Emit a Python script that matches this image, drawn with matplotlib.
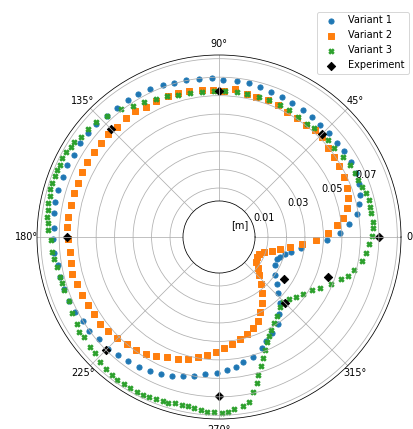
import numpy as np
import matplotlib
matplotlib.use("Agg")
import matplotlib.pyplot as plt

# Angles in degrees, radial displacement in metres
v1_theta = [358.4, 2.0, 5.7, 9.5, 13.2, 16.7, 20.7, 25.2, 29.8, 34.6, 38.7, 43.5, 48.1, 52.3,
            56.6, 61.4, 65.7, 70.3, 74.7, 79.0, 83.5, 88.4, 92.7, 97.2, 101.7, 106.2, 110.1,
            115.0, 119.4, 123.6, 128.4, 132.9, 137.4, 141.4, 146.0, 150.5, 154.7, 158.9, 163.6,
            168.0, 171.8, 176.7, 180.7, 185.6, 189.8, 194.2, 198.6, 203.1, 207.4, 211.6, 216.1,
            220.4, 225.3, 229.5, 233.8, 238.3, 242.7, 246.9, 251.3, 255.6, 259.8, 264.2, 269.0,
            273.3, 277.3, 281.0, 286.0, 291.0, 294.5, 298.7, 303.9, 307.9, 312.9, 316.8, 321.1,
            325.8, 333.4, 338.9, 342.1, 345.6, 348.5, 352.2]
v1_r = [0.0421, 0.0490, 0.0541, 0.0590, 0.0614, 0.0634, 0.0647, 0.0654, 0.0657, 0.0659, 0.0650,
        0.0655, 0.0653, 0.0657, 0.0659, 0.0660, 0.0667, 0.0669, 0.0674, 0.0682, 0.0685, 0.0684,
        0.0694, 0.0695, 0.0704, 0.0705, 0.0710, 0.0716, 0.0724, 0.0728, 0.0727, 0.0728, 0.0736,
        0.0739, 0.0741, 0.0737, 0.0746, 0.0740, 0.0741, 0.0742, 0.0740, 0.0727, 0.0734, 0.0735,
        0.0720, 0.0722, 0.0719, 0.0715, 0.0712, 0.0702, 0.0703, 0.0685, 0.0686, 0.0674, 0.0665,
        0.0661, 0.0649, 0.0640, 0.0627, 0.0609, 0.0598, 0.0579, 0.0569, 0.0555, 0.0542, 0.0522,
        0.0508, 0.0479, 0.0453, 0.0429, 0.0404, 0.0365, 0.0320, 0.0275, 0.0240, 0.0201, 0.0174,
        0.0170, 0.0182, 0.0204, 0.0232, 0.0283]

v2_theta = [358.2, 1.9, 5.8, 8.9, 12.6, 16.6, 21.1, 25.8, 30.4, 34.9, 39.1, 44.2, 48.1, 52.2,
            57.0, 61.4, 65.8, 70.3, 75.2, 79.0, 83.8, 88.0, 92.5, 96.7, 101.5, 105.8, 110.0,
            114.8, 119.3, 123.7, 128.1, 132.8, 137.1, 141.6, 145.8, 150.4, 154.7, 158.9, 163.3,
            167.9, 172.3, 176.4, 180.8, 185.6, 189.8, 194.1, 198.4, 202.9, 207.4, 211.7, 216.3,
            220.3, 224.9, 229.3, 233.6, 237.9, 242.1, 246.4, 251.2, 255.6, 260.1, 264.4, 268.7,
            272.8, 277.0, 281.4, 286.0, 290.3, 294.8, 298.6, 302.6, 307.1, 311.5, 316.6, 321.3,
            326.2, 331.9, 337.1, 341.5, 345.4, 348.6, 351.7, 355.0]
v2_r = [0.0359, 0.0426, 0.0479, 0.0514, 0.0544, 0.0566, 0.0577, 0.0584, 0.0591, 0.0593, 0.0596,
        0.0610, 0.0612, 0.0602, 0.0606, 0.0607, 0.0617, 0.0622, 0.0619, 0.0623, 0.0638, 0.0628,
        0.0630, 0.0634, 0.0641, 0.0643, 0.0648, 0.0647, 0.0643, 0.0654, 0.0650, 0.0648, 0.0652,
        0.0653, 0.0656, 0.0658, 0.0656, 0.0652, 0.0655, 0.0657, 0.0657, 0.0657, 0.0650, 0.0648,
        0.0649, 0.0656, 0.0646, 0.0641, 0.0635, 0.0630, 0.0633, 0.0620, 0.0611, 0.0602, 0.0594,
        0.0581, 0.0563, 0.0543, 0.0532, 0.0515, 0.0494, 0.0475, 0.0457, 0.0437, 0.0419, 0.0399,
        0.0379, 0.0362, 0.0335, 0.0298, 0.0262, 0.0218, 0.0178, 0.0134, 0.0103, 0.0078, 0.0065,
        0.0067, 0.0090, 0.0130, 0.0172, 0.0223, 0.0287]

v3_theta = [0.4, 3.2, 5.7, 8.8, 11.3, 13.9, 16.6, 19.4, 22.2, 25.3, 28.8, 33.0, 37.6, 41.6,
            45.2, 48.9, 52.3, 56.4, 61.0, 65.3, 69.8, 73.9, 78.8, 83.1, 87.7, 92.1, 96.8, 101.4,
            105.9, 110.2, 114.5, 119.0, 123.4, 127.4, 132.7, 136.8, 140.5, 144.0, 146.6, 148.7,
            151.0, 153.2, 155.7, 157.6, 159.7, 162.0, 164.2, 166.3, 168.7, 171.0, 173.3, 175.4,
            177.5, 181.0, 185.0, 187.6, 190.4, 194.0, 196.3, 198.9, 203.2, 207.4, 211.4, 214.1,
            216.7, 220.4, 223.2, 226.3, 229.4, 232.1, 234.7, 237.2, 239.5, 242.1, 244.4, 246.5,
            248.7, 251.0, 253.0, 255.1, 257.5, 259.5, 261.7, 264.1, 266.2, 268.5, 270.9, 273.0,
            275.1, 278.0, 280.3, 282.5, 284.4, 285.9, 287.8, 289.8, 292.0, 294.3, 296.5, 299.2,
            302.6, 306.5, 311.0, 314.8, 318.6, 322.2, 325.9, 330.0, 333.3, 337.4, 340.8, 343.3,
            346.1, 350.3, 353.7, 357.2]
v3_r = [0.0665, 0.0669, 0.0672, 0.0670, 0.0671, 0.0670, 0.0664, 0.0653, 0.0650, 0.0648, 0.0643,
        0.0632, 0.0622, 0.0625, 0.0623, 0.0617, 0.0610, 0.0612, 0.0620, 0.0620, 0.0624, 0.0623,
        0.0623, 0.0626, 0.0626, 0.0628, 0.0627, 0.0631, 0.0636, 0.0650, 0.0658, 0.0671, 0.0682,
        0.0707, 0.0725, 0.0746, 0.0751, 0.0757, 0.0772, 0.0775, 0.0779, 0.0784, 0.0781, 0.0785,
        0.0784, 0.0786, 0.0784, 0.0779, 0.0779, 0.0772, 0.0770, 0.0766, 0.0763, 0.0747, 0.0743,
        0.0738, 0.0727, 0.0721, 0.0719, 0.0721, 0.0721, 0.0732, 0.0737, 0.0748, 0.0745, 0.0750,
        0.0754, 0.0767, 0.0776, 0.0780, 0.0786, 0.0783, 0.0784, 0.0785, 0.0782, 0.0780, 0.0775,
        0.0771, 0.0772, 0.0762, 0.0769, 0.0763, 0.0768, 0.0775, 0.0783, 0.0785, 0.0788, 0.0786,
        0.0769, 0.0761, 0.0740, 0.0692, 0.0652, 0.0611, 0.0570, 0.0532, 0.0494, 0.0461, 0.0436,
        0.0411, 0.0387, 0.0366, 0.0340, 0.0330, 0.0342, 0.0362, 0.0385, 0.0414, 0.0448, 0.0493,
        0.0534, 0.0565, 0.0589, 0.0618, 0.0638, 0.0649]

exp_theta = [0, 45, 90, 135, 180, 225, 270, 315, 327, 340]
exp_r = [0.0702, 0.0624, 0.0626, 0.0662, 0.0658, 0.0699, 0.0698, 0.0337, 0.0257, 0.0462]

r_ticks = [0.01, 0.02, 0.03, 0.04, 0.05, 0.06, 0.07, 0.08]
r_labelled = [0.01, 0.03, 0.05, 0.07]

DPI = 70
fig = plt.figure(figsize=(413 / DPI, 429 / DPI), dpi=DPI)
ax = fig.add_axes([0.0896, 0.0233, 0.8814, 0.8485], projection="polar")

ms = 28
ax.scatter(np.radians(v1_theta), v1_r, s=ms, marker="o", label="Variant 1")
ax.scatter(np.radians(v2_theta), v2_r, s=ms, marker="s", label="Variant 2")
ax.scatter(np.radians(v3_theta), v3_r, s=ms, marker="X", label="Variant 3")
ax.scatter(np.radians(exp_theta), exp_r, s=36, marker="D", color="k", label="Experiment")

ax.set_rorigin(-0.0165)
ax.set_rlim(0.003, 0.082)
ax.set_rticks(r_ticks)
ax.set_yticklabels([])
ax.tick_params(axis="x", pad=0.5)

# radial labels centred on their rings along the 23 degree ray
for rv in r_labelled:
    ax.text(np.radians(23), rv, f"{rv:.2f}", ha="center", va="center")
ax.text(0.5577, 0.533, "[m]", transform=ax.transAxes, ha="center", va="center")

fig.legend(loc="upper right", bbox_to_anchor=(0.990, 0.973), borderaxespad=0)

fig.savefig("out.png", dpi=DPI)
